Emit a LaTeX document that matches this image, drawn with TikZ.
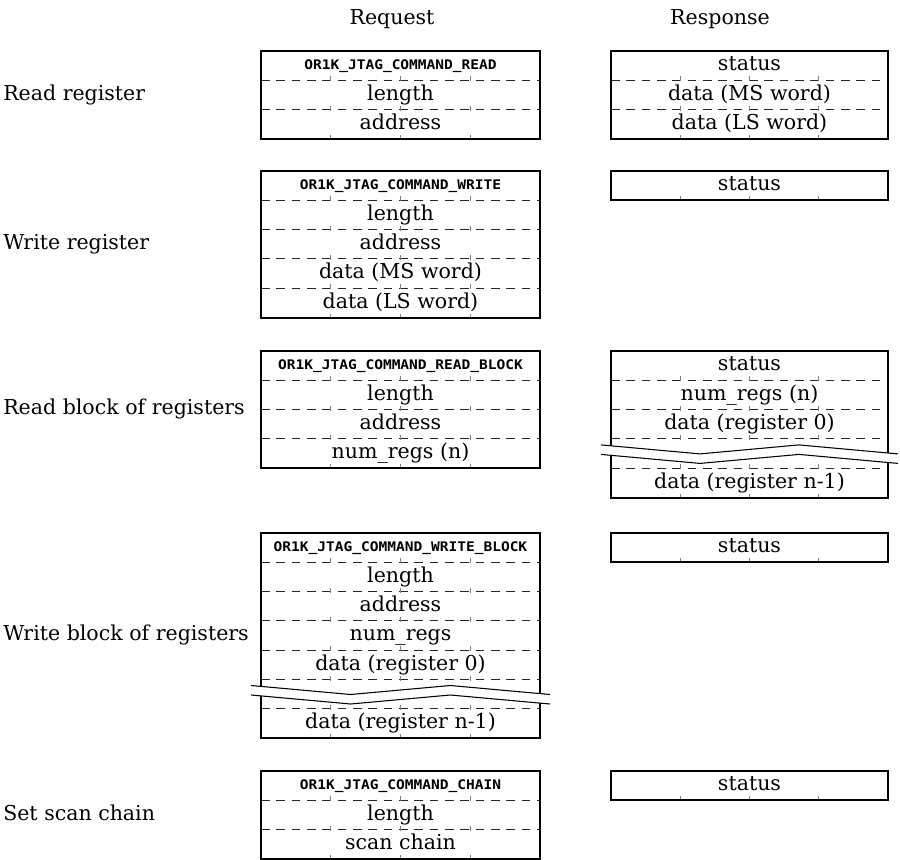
\documentclass[tikz,border=0pt]{standalone}
\usepackage{fontspec}
\setmainfont{DejaVu Serif}
\newfontfamily\cmdfont{DejaVu Sans Mono}[FakeStretch=1.1]

% geometry of the packet boxes (units: 1 = 0.75pt)
\def\rowh{29.3}
\def\reqL{261}  \def\reqR{540}  \def\reqx{400.5}
\def\resL{611}  \def\resR{888}  \def\resx{749.5}

% frame with dashed word dividers and byte ticks: left, right, top, rows
\newcommand\pktbox[4]{%
  \foreach \k in {1,...,#4}{%
    \draw[divider] (#1,{#3+\k*\rowh}) -- (#2,{#3+\k*\rowh});
    \foreach \q in {1,2,3}
      \draw[bytetick] ({#1+\q*(#2-#1)/4},{#3+\k*\rowh+1}) -- ++(0,-5);
  }%
  \draw[frame] (#1,#3) rectangle (#2,{#3+#4*\rowh});
}

% skipped words marker across a row: left, right, top of the row
\newcommand\skiprow[3]{%
  \pgfmathsetmacro\zzL{#1-10}%
  \pgfmathsetmacro\zzR{#2+10}%
  \pgfmathsetmacro\zzW{(\zzR-\zzL)/3}%
  \fill[white] (\zzL,{#3+6}) -- ({\zzL+\zzW},{#3+15}) -- ({\zzL+2*\zzW},{#3+6}) -- (\zzR,{#3+15})
    -- (\zzR,{#3+24.5}) -- ({\zzL+2*\zzW},{#3+15.5}) -- ({\zzL+\zzW},{#3+24.5}) -- (\zzL,{#3+15.5}) -- cycle;
  \draw[breakline] (\zzL,{#3+6}) -- ({\zzL+\zzW},{#3+15}) -- ({\zzL+2*\zzW},{#3+6}) -- (\zzR,{#3+15});
  \draw[breakline] (\zzL,{#3+15.5}) -- ({\zzL+\zzW},{#3+24.5}) -- ({\zzL+2*\zzW},{#3+15.5}) -- (\zzR,{#3+24.5});
}

% text in a row: name, x, box top, row number, text
\newcommand\pktcell[5]{\node[field] (#1) at (#2,{#3+(#4-0.5)*\rowh+5.3}) {#5};}
\newcommand\pktcmd[5]{\node[cmd] (#1) at (#2,{#3+(#4-0.5)*\rowh+3.8}) {#5};}

\begin{document}
\begin{tikzpicture}[x=0.75pt, y=-0.75pt,
  frame/.style={line width=1.5pt},
  divider/.style={line width=0.8pt, black!85, dash pattern=on 6.5pt off 5pt},
  bytetick/.style={line width=0.7pt, black!50},
  breakline/.style={line width=0.8pt},
  field/.style={anchor=base, inner sep=0pt, font=\fontsize{15.4}{18}\selectfont},
  cmd/.style={anchor=base, inner sep=0pt, font=\cmdfont\bfseries\fontsize{9.9}{11}\selectfont},
  rowlabel/.style={anchor=base west, inner sep=0pt, font=\fontsize{15.4}{18}\selectfont},
]
\useasboundingbox (0,0) rectangle (900,860);

% column headers
\node[field] (hdr-req) at (392,25) {Request};
\node[field] (hdr-resp) at (720,25) {Response};

% command names
\node[rowlabel] (lbl-read) at (3,100) {Read register};
\node[rowlabel] (lbl-write) at (3,249.3) {Write register};
\node[rowlabel] (lbl-readblk) at (3,414.6) {Read block of registers};
\node[rowlabel] (lbl-writeblk) at (3,640) {Write block of registers};
\node[rowlabel] (lbl-chain) at (3,820) {Set scan chain};

% read register
\pktbox{\reqL}{\reqR}{51}{3}
\pktbox{\resL}{\resR}{51}{3}
\pktcmd{rd-cmd}{\reqx}{51}{1}{OR1K\_JTAG\_COMMAND\_READ}
\pktcell{rd-len}{\reqx}{51}{2}{length}
\pktcell{rd-addr}{\reqx}{51}{3}{address}
\pktcell{rd-st}{\resx}{51}{1}{status}
\pktcell{rd-ms}{\resx}{51}{2}{data (MS word)}
\pktcell{rd-ls}{\resx}{51}{3}{data (LS word)}

% write register
\pktbox{\reqL}{\reqR}{171}{5}
\pktbox{\resL}{\resR}{171}{1}
\pktcmd{wr-cmd}{\reqx}{171}{1}{OR1K\_JTAG\_COMMAND\_WRITE}
\pktcell{wr-len}{\reqx}{171}{2}{length}
\pktcell{wr-addr}{\reqx}{171}{3}{address}
\pktcell{wr-ms}{\reqx}{171}{4}{data (MS word)}
\pktcell{wr-ls}{\reqx}{171}{5}{data (LS word)}
\pktcell{wr-st}{\resx}{171}{1}{status}

% read block of registers
\pktbox{\reqL}{\reqR}{351}{4}
\pktbox{\resL}{\resR}{351}{5}
\skiprow{\resL}{\resR}{351+3*\rowh}
\pktcmd{rb-cmd}{\reqx}{351}{1}{OR1K\_JTAG\_COMMAND\_READ\_BLOCK}
\pktcell{rb-len}{\reqx}{351}{2}{length}
\pktcell{rb-addr}{\reqx}{351}{3}{address}
\pktcell{rb-num}{\reqx}{351}{4}{num\_regs (n)}
\pktcell{rb-st}{\resx}{351}{1}{status}
\pktcell{rb-rnum}{\resx}{351}{2}{num\_regs (n)}
\pktcell{rb-d0}{\resx}{351}{3}{data (register 0)}
\pktcell{rb-dn}{\resx}{351}{5}{data (register n-1)}

% write block of registers
\pktbox{\reqL}{\reqR}{533}{7}
\pktbox{\resL}{\resR}{533}{1}
\skiprow{\reqL}{\reqR}{533+5*\rowh}
\pktcmd{wb-cmd}{\reqx}{533}{1}{OR1K\_JTAG\_COMMAND\_WRITE\_BLOCK}
\pktcell{wb-len}{\reqx}{533}{2}{length}
\pktcell{wb-addr}{\reqx}{533}{3}{address}
\pktcell{wb-num}{\reqx}{533}{4}{num\_regs}
\pktcell{wb-d0}{\reqx}{533}{5}{data (register 0)}
\pktcell{wb-dn}{\reqx}{533}{7}{data (register n-1)}
\pktcell{wb-st}{\resx}{533}{1}{status}

% set scan chain
\pktbox{\reqL}{\reqR}{771}{3}
\pktbox{\resL}{\resR}{771}{1}
\pktcmd{ch-cmd}{\reqx}{771}{1}{OR1K\_JTAG\_COMMAND\_CHAIN}
\pktcell{ch-len}{\reqx}{771}{2}{length}
\pktcell{ch-sc}{\reqx}{771}{3}{scan chain}
\pktcell{ch-st}{\resx}{771}{1}{status}
\end{tikzpicture}
\end{document}
